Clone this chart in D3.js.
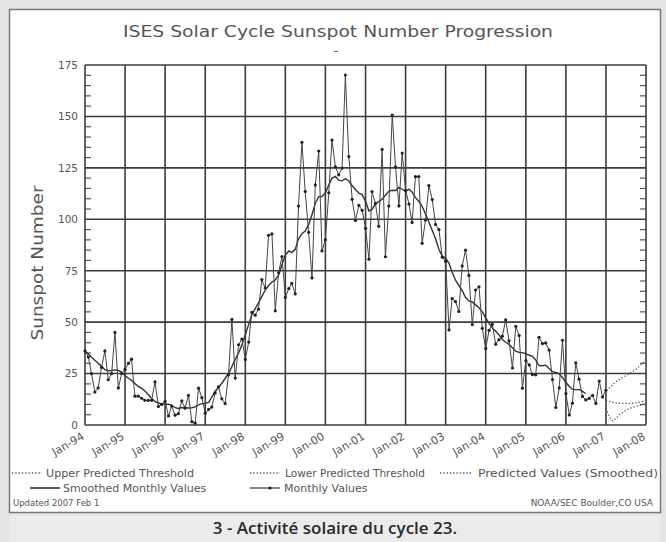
<!DOCTYPE html>
<html>
<head>
<meta charset="utf-8">
<script src="https://cdn.jsdelivr.net/npm/d3@7"></script>
<style>
  body { margin: 0; background: #e4e4e4; }
  svg { display: block; font-family: "DejaVu Sans", sans-serif; }
</style>
</head>
<body>
<div id="chart"></div>
<script>
// x tick labels, one per January
const yearLabels = ["Jan-94","Jan-95","Jan-96","Jan-97","Jan-98","Jan-99","Jan-00",
  "Jan-01","Jan-02","Jan-03","Jan-04","Jan-05","Jan-06","Jan-07","Jan-08"];
const yTicks = [0, 25, 50, 75, 100, 125, 150, 175];

// monthly sunspot numbers, Jan 1994 .. Jan 2007
const monthly = [
  36, 33, 25, 16, 18, 28, 36, 22, 25, 45, 18, 25,
  27, 30, 32, 14, 14, 13, 12, 12, 12, 21, 9, 10,
  11.5, 4.4, 9.2, 4.8, 5.5, 11.8, 8.2, 14.4, 1.6, 0.9, 17.9, 13.3,
  5.7, 7.6, 8.7, 15.5, 18.5, 12.7, 10.4, 24.4, 51.3, 22.8, 39.0, 41.8,
  31.9, 40.3, 54.8, 53.4, 56.3, 70.7, 66.6, 92.2, 92.9, 55.5, 74.0, 81.9,
  62.0, 66.3, 68.8, 63.7, 106.4, 137.4, 113.5, 93.7, 71.5, 116.7, 133.2, 84.6,
  90.1, 112.9, 138.5, 125.5, 121.6, 124.9, 170.1, 130.5, 109.7, 99.4, 106.8, 104.4,
  95.6, 80.6, 113.5, 107.7, 96.6, 134.0, 81.8, 106.4, 150.7, 125.5, 106.5, 132.2,
  114.1, 107.4, 98.4, 120.7, 120.8, 88.3, 99.6, 116.4, 109.6, 97.5, 95.0, 81.6,
  79.5, 46.2, 61.5, 60.0, 55.2, 77.4, 85.0, 72.7, 48.8, 65.6, 67.2, 47.0,
  37.2, 46.0, 48.9, 39.3, 41.5, 43.2, 51.1, 40.9, 27.7, 48.0, 43.5, 17.9,
  31.3, 29.2, 24.5, 24.4, 42.6, 39.6, 39.9, 36.4, 22.1, 8.5, 18.0, 41.2,
  15.3, 4.9, 10.6, 30.2, 22.3, 13.9, 12.2, 12.9, 14.4, 10.5, 21.4, 13.6,
  16.9
];

// smoothed monthly values, Jan 1994 .. Jul 2006
const smoothed = [
  36.0, 34.5, 33.0, 31.5, 30.0, 28.5, 26.9, 26.4, 26.5, 26.8, 26.5, 25.7,
  24.1, 22.7, 21.7, 20.2, 18.8, 17.8, 16.5, 14.8, 12.8, 11.5, 10.7, 10.3,
  10.1, 10.1, 9.7, 8.4, 8.0, 8.5, 8.4, 8.3, 8.4, 8.8, 9.8, 10.4,
  10.5, 11.0, 13.5, 16.5, 18.3, 20.3, 22.6, 25.1, 28.4, 31.9, 35.0, 39.0,
  43.8, 48.9, 53.5, 56.6, 59.4, 62.5, 65.5, 67.8, 69.5, 70.5, 73.0, 77.9,
  82.6, 84.6, 83.8, 85.4, 90.5, 93.0, 94.3, 97.4, 102.3, 107.8, 111.0, 111.1,
  112.9, 116.8, 119.9, 120.8, 119.0, 118.7, 119.8, 118.6, 116.3, 114.5, 112.7, 112.0,
  108.7, 104.0, 104.8, 107.5, 108.6, 109.8, 111.7, 113.6, 114.1, 114.0, 115.5, 114.6,
  113.5, 114.6, 113.3, 110.5, 108.8, 106.2, 102.7, 98.7, 94.6, 90.5, 85.3, 82.1,
  81.0, 78.6, 74.2, 70.4, 67.9, 65.3, 62.1, 60.3, 59.8, 58.4, 57.0, 55.0,
  52.1, 49.4, 47.2, 45.6, 43.8, 41.6, 40.2, 39.2, 37.5, 35.9, 35.3, 35.2,
  34.6, 33.9, 33.5, 31.6, 28.9, 28.8, 29.1, 27.5, 25.9, 25.5, 24.9, 23.0,
  20.8, 18.7, 17.4, 17.1, 17.3, 16.3, 15.3
];

// predictions, Jan 2007 .. Jan 2008
const predicted = [12, 11.5, 11, 10.8, 10.6, 10.5, 10.5, 10.5, 10.6, 10.8, 11, 11.5, 12];
const upperPred = [17, 18, 19.5, 21, 22, 23, 24, 25, 26, 27, 28.5, 30, 32];
const lowerPred = [8, 4, 2, 3, 5, 6, 7, 8, 8.5, 9, 9.5, 10, 10];

const W = 666, H = 542;
const margin = {top: 65, right: 20, bottom: 117, left: 85};
const width = 646 - margin.left, height = 425 - margin.top;

const svg = d3.select("#chart").append("svg")
    .attr("width", W)
    .attr("height", H);

// page frame and caption band
svg.append("rect").attr("x", 0).attr("y", 0).attr("width", W).attr("height", H).attr("fill", "#e4e4e4");
svg.append("rect").attr("x", 9.5).attr("y", 9.5).attr("width", 651).attr("height", 503)
    .attr("fill", "#fff").attr("stroke", "#777").attr("stroke-width", 1.5);
svg.append("rect").attr("x", 9.5).attr("y", 515).attr("width", 651).attr("height", 27)
    .attr("fill", "#ebebeb");

svg.append("text")
    .attr("x", 335).attr("y", 529).attr("text-anchor", "middle")
    .attr("dominant-baseline", "middle")
    .attr("font-family", "'Open Sans', sans-serif").attr("font-weight", 600)
    .attr("font-size", 17).attr("fill", "#2a2a2a")
    .text("3 - Activité solaire du cycle 23.");

const g = svg.append("g")
    .attr("transform", "translate(" + margin.left + "," + margin.top + ")");

const x = d3.scaleTime()
    .domain([new Date(1994, 0, 1), new Date(2008, 0, 1)])
    .range([0, width]);
const y = d3.scaleLinear()
    .domain([0, 175])
    .range([height, 0]);

const monthDate = i => new Date(1994, i, 1);
const years = d3.range(1994, 2009).map(yr => new Date(yr, 0, 1));

// grid
g.append("g").selectAll("line").data(yTicks).join("line")
    .attr("x1", 0).attr("x2", width)
    .attr("y1", d => y(d)).attr("y2", d => y(d))
    .attr("stroke", "#3c3c3c").attr("stroke-width", 1.6);
g.append("g").selectAll("line").data(years).join("line")
    .attr("x1", d => x(d)).attr("x2", d => x(d))
    .attr("y1", 0).attr("y2", height)
    .attr("stroke", "#3c3c3c").attr("stroke-width", 1.6);

// minor ticks on both sides
const minor = d3.range(0, 176, 5).filter(v => v % 25 != 0);
g.append("g").selectAll("line").data(minor).join("line")
    .attr("x1", 0).attr("x2", 6)
    .attr("y1", d => y(d)).attr("y2", d => y(d))
    .attr("stroke", "#555").attr("stroke-width", 1.2);
g.append("g").selectAll("line").data(minor).join("line")
    .attr("x1", width - 6).attr("x2", width)
    .attr("y1", d => y(d)).attr("y2", d => y(d))
    .attr("stroke", "#555").attr("stroke-width", 1.2);

// y axis labels
const yAxis = d3.axisLeft(y).tickValues(yTicks).tickSize(0).tickPadding(7);
g.append("g").call(yAxis)
    .call(s => s.select(".domain").remove())
    .selectAll("text")
    .attr("font-size", 10.5).attr("fill", "#555")
    .attr("font-family", "'DejaVu Sans', sans-serif");

// x axis labels
const xAxis = d3.axisBottom(x).tickValues(years).tickSize(0)
    .tickFormat((d, i) => yearLabels[i]);
g.append("g").attr("transform", `translate(0,${height})`).call(xAxis)
    .call(s => s.select(".domain").remove())
    .selectAll("text")
    .attr("font-size", 11).attr("fill", "#555")
    .attr("font-family", "'DejaVu Sans', sans-serif")
    .attr("text-anchor", "end")
    .attr("dy", 0)
    .attr("transform", "translate(-2,11) rotate(-30)");

// title and axis label
svg.append("text")
    .attr("x", 338).attr("y", 37).attr("text-anchor", "middle")
    .attr("font-size", 16).attr("fill", "#555")
    .attr("textLength", 430).attr("lengthAdjust", "spacingAndGlyphs")
    .text("ISES Solar Cycle Sunspot Number Progression");
svg.append("text")
    .attr("x", 336).attr("y", 55).attr("text-anchor", "middle")
    .attr("font-size", 12).attr("fill", "#555")
    .text("-");
svg.append("text")
    .attr("transform", "translate(43,263) rotate(-90)")
    .attr("text-anchor", "middle")
    .attr("font-size", 15).attr("fill", "#555")
    .attr("textLength", 155).attr("lengthAdjust", "spacingAndGlyphs")
    .text("Sunspot Number");

// data lines
const line = d3.line().x(d => x(d[0])).y(d => y(d[1]));
const monthlyPts = monthly.map((v, i) => [monthDate(i), v]);
const smoothPts = smoothed.map((v, i) => [monthDate(i), v]);
const predPts = arr => arr.map((v, i) => [monthDate(156 + i), v]);

g.append("path").datum(smoothPts)
    .attr("fill", "none").attr("stroke", "#333").attr("stroke-width", 1.4)
    .attr("d", line);
g.append("path").datum(monthlyPts)
    .attr("fill", "none").attr("stroke", "#444").attr("stroke-width", 1)
    .attr("d", line);
g.append("g").selectAll("circle").data(monthlyPts).join("circle")
    .attr("cx", d => x(d[0])).attr("cy", d => y(d[1])).attr("r", 1.6)
    .attr("fill", "#222");

[upperPred, lowerPred, predicted].forEach(arr => {
  g.append("path").datum(predPts(arr))
      .attr("fill", "none").attr("stroke", "#555").attr("stroke-width", 1.3)
      .attr("stroke-dasharray", "1.3,2")
      .attr("d", line);
});

// legend
const legend = svg.append("g").attr("font-size", 11).attr("fill", "#555");
const dotted = [[12, 42, 473, "Upper Predicted Threshold", 46, 148],
                [250, 280, 473, "Lower Predicted Threshold", 285, 140],
                [440, 472, 473, "Predicted Values (Smoothed)", 478, 180]];
dotted.forEach(d => {
  legend.append("line").attr("x1", d[0]).attr("x2", d[1]).attr("y1", d[2]).attr("y2", d[2])
      .attr("stroke", "#555").attr("stroke-width", 1.3).attr("stroke-dasharray", "1.3,2");
  legend.append("text").attr("x", d[4]).attr("y", d[2] + 4)
      .attr("textLength", d[5]).attr("lengthAdjust", "spacingAndGlyphs")
      .text(d[3]);
});
legend.append("line").attr("x1", 30).attr("x2", 60).attr("y1", 488).attr("y2", 488)
    .attr("stroke", "#333").attr("stroke-width", 1.6);
legend.append("text").attr("x", 63).attr("y", 492).text("Smoothed Monthly Values");
legend.append("line").attr("x1", 250).attr("x2", 280).attr("y1", 488).attr("y2", 488)
    .attr("stroke", "#333").attr("stroke-width", 1.2);
legend.append("circle").attr("cx", 270).attr("cy", 488).attr("r", 1.6).attr("fill", "#222");
legend.append("text").attr("x", 284).attr("y", 492).text("Monthly Values");

svg.append("text").attr("x", 13).attr("y", 506).attr("font-size", 8.5).attr("fill", "#555")
    .text("Updated 2007 Feb  1");
svg.append("text").attr("x", 653).attr("y", 506).attr("text-anchor", "end")
    .attr("font-size", 9).attr("fill", "#555")
    .text("NOAA/SEC Boulder,CO USA");
</script>
</body>
</html>
